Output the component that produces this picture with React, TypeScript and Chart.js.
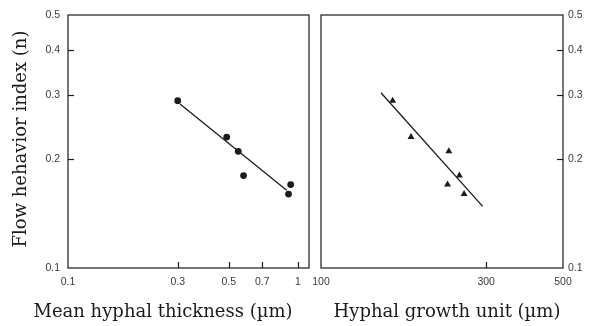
import React, { useEffect, useRef } from "react";
import { Chart, registerables } from "chart.js";

Chart.register(...registerables);

// Flow behaviour index n against mean hyphal thickness (µm)
const thicknessUm = [0.3, 0.49, 0.55, 0.58, 0.93, 0.91];
const thicknessN = [0.29, 0.23, 0.21, 0.18, 0.17, 0.16];
const thicknessFitX = [0.307, 0.893];
const thicknessFitN = [0.284, 0.164];

// Flow behaviour index n against hyphal growth unit (µm)
const growthUnitUm = [161, 182, 234, 251, 232, 259];
const growthUnitN = [0.29, 0.23, 0.21, 0.18, 0.17, 0.16];
const growthFitX = [149, 293];
const growthFitN = [0.305, 0.148];

// Axis ticks
const nTicks = [0.1, 0.2, 0.3, 0.4, 0.5];
const thicknessTicks = [0.1, 0.3, 0.5, 0.7, 1];
const growthTicks = [100, 300, 500];

const yTitle = "Flow hehavior index (n)";
const thicknessTitle = "Mean hyphal thickness (µm)";
const growthTitle = "Hyphal growth unit (µm)";

const W = 595;
const H = 326;
const INK = "#1b1b1b";
const TITLE_FONT = '18px "DejaVu Serif", serif';
const tickFont = { family: '"Liberation Sans", sans-serif', size: 10.5 };
const MARK_LEN = 6;

type TitleSpec = { text: string; x: number; y: number; rotate?: boolean };

// Draws the closed frame, the short inward tick marks and the axis titles.
function makeOverlay(
  xMarks: number[],
  yMarks: number[],
  ySide: "left" | "right",
  titles: TitleSpec[]
) {
  return {
    id: "frameOverlay",
    afterDraw(chart: any) {
      const ctx: CanvasRenderingContext2D = chart.ctx;
      const a = chart.chartArea;
      const xs = chart.scales.x;
      const ys = chart.scales.y;
      ctx.save();
      ctx.strokeStyle = INK;
      ctx.lineWidth = 1.2;
      ctx.strokeRect(a.left, a.top, a.right - a.left, a.bottom - a.top);

      const xLo = Math.min(xs.min, xs.max);
      const xHi = Math.max(xs.min, xs.max);
      for (const v of xMarks) {
        if (v <= xLo * 1.001 || v >= xHi * 0.999) continue;
        const px = Math.round(xs.getPixelForValue(v)) + 0.5;
        ctx.beginPath();
        ctx.moveTo(px, a.bottom);
        ctx.lineTo(px, a.bottom - MARK_LEN);
        ctx.stroke();
      }
      for (const v of yMarks) {
        if (v <= 0.1001 || v >= 0.4999) continue;
        const py = Math.round(ys.getPixelForValue(v)) + 0.5;
        ctx.beginPath();
        if (ySide === "left") {
          ctx.moveTo(a.left, py);
          ctx.lineTo(a.left + MARK_LEN, py);
        } else {
          ctx.moveTo(a.right, py);
          ctx.lineTo(a.right - MARK_LEN, py);
        }
        ctx.stroke();
      }

      ctx.fillStyle = INK;
      ctx.font = TITLE_FONT;
      ctx.textAlign = "center";
      ctx.textBaseline = "middle";
      for (const t of titles) {
        ctx.save();
        ctx.translate(t.x, t.y);
        if (t.rotate) ctx.rotate(-Math.PI / 2);
        ctx.fillText(t.text, 0, 0);
        ctx.restore();
      }
      ctx.restore();
    },
  };
}

function logAxis(
  min: number,
  max: number,
  ticks: number[],
  position: "left" | "right" | "bottom",
  size: number,
  padding: number
) {
  const horizontal = position === "bottom";
  return {
    type: "logarithmic" as const,
    position,
    min,
    max,
    afterBuildTicks: (s: any) => {
      s.ticks = ticks.map((v) => ({ value: v }));
    },
    afterFit: (s: any) => {
      if (horizontal) s.height = size;
      else s.width = size;
    },
    grid: { display: false, drawTicks: false },
    border: { display: false },
    ticks: {
      autoSkip: false,
      maxRotation: 0,
      padding,
      color: "#3a3a3a",
      font: tickFont,
      callback: (v: any) => String(v),
    },
  };
}

function pairs(xs: number[], ys: number[]) {
  return xs.map((x, i) => ({ x, y: ys[i] }));
}

export default function App() {
  const leftRef = useRef<HTMLCanvasElement>(null);
  const rightRef = useRef<HTMLCanvasElement>(null);

  useEffect(() => {
    const left = new Chart(leftRef.current!, {
      type: "scatter",
      data: {
        datasets: [
          {
            data: pairs(thicknessUm, thicknessN),
            pointStyle: "circle",
            pointRadius: 3.4,
            backgroundColor: INK,
            borderColor: INK,
            borderWidth: 0,
          },
          {
            data: pairs(thicknessFitX, thicknessFitN),
            showLine: true,
            pointRadius: 0,
            borderColor: INK,
            borderWidth: 1.3,
          },
        ],
      },
      options: {
        responsive: false,
        animation: false,
        layout: { padding: { left: 0, top: 15, right: W - 309, bottom: 0 } },
        plugins: { legend: { display: false }, tooltip: { enabled: false } },
        scales: {
          x: logAxis(0.1, 1.117, thicknessTicks, "bottom", H - 268, 8),
          y: logAxis(0.1, 0.5, nTicks, "left", 68, 8),
        },
      },
      plugins: [
        makeOverlay(thicknessTicks, nTicks, "left", [
          { text: yTitle, x: 21, y: 139, rotate: true },
          { text: thicknessTitle, x: 163, y: 312 },
        ]),
      ],
    } as any);

    const right = new Chart(rightRef.current!, {
      type: "scatter",
      data: {
        datasets: [
          {
            data: pairs(growthUnitUm, growthUnitN),
            pointStyle: "triangle",
            pointRadius: 4,
            backgroundColor: INK,
            borderColor: INK,
            borderWidth: 0,
          },
          {
            data: pairs(growthFitX, growthFitN),
            showLine: true,
            pointRadius: 0,
            borderColor: INK,
            borderWidth: 1.3,
          },
        ],
      },
      options: {
        responsive: false,
        animation: false,
        layout: { padding: { left: 321, top: 15, right: 0, bottom: 0 } },
        plugins: { legend: { display: false }, tooltip: { enabled: false } },
        scales: {
          x: logAxis(100, 500, growthTicks, "bottom", H - 268, 8),
          y: logAxis(0.1, 0.5, nTicks, "right", W - 563, 5),
        },
      },
      plugins: [
        makeOverlay(growthTicks, nTicks, "right", [
          { text: growthTitle, x: 447, y: 312 },
        ]),
      ],
    } as any);

    return () => {
      left.destroy();
      right.destroy();
    };
  }, []);

  const canvasStyle: React.CSSProperties = { position: "absolute", left: 0, top: 0 };
  return (
    <div style={{ position: "absolute", left: 0, top: 0, width: W, height: H, background: "#fff" }}>
      <canvas ref={leftRef} width={W} height={H} style={canvasStyle} />
      <canvas ref={rightRef} width={W} height={H} style={canvasStyle} />
    </div>
  );
}
